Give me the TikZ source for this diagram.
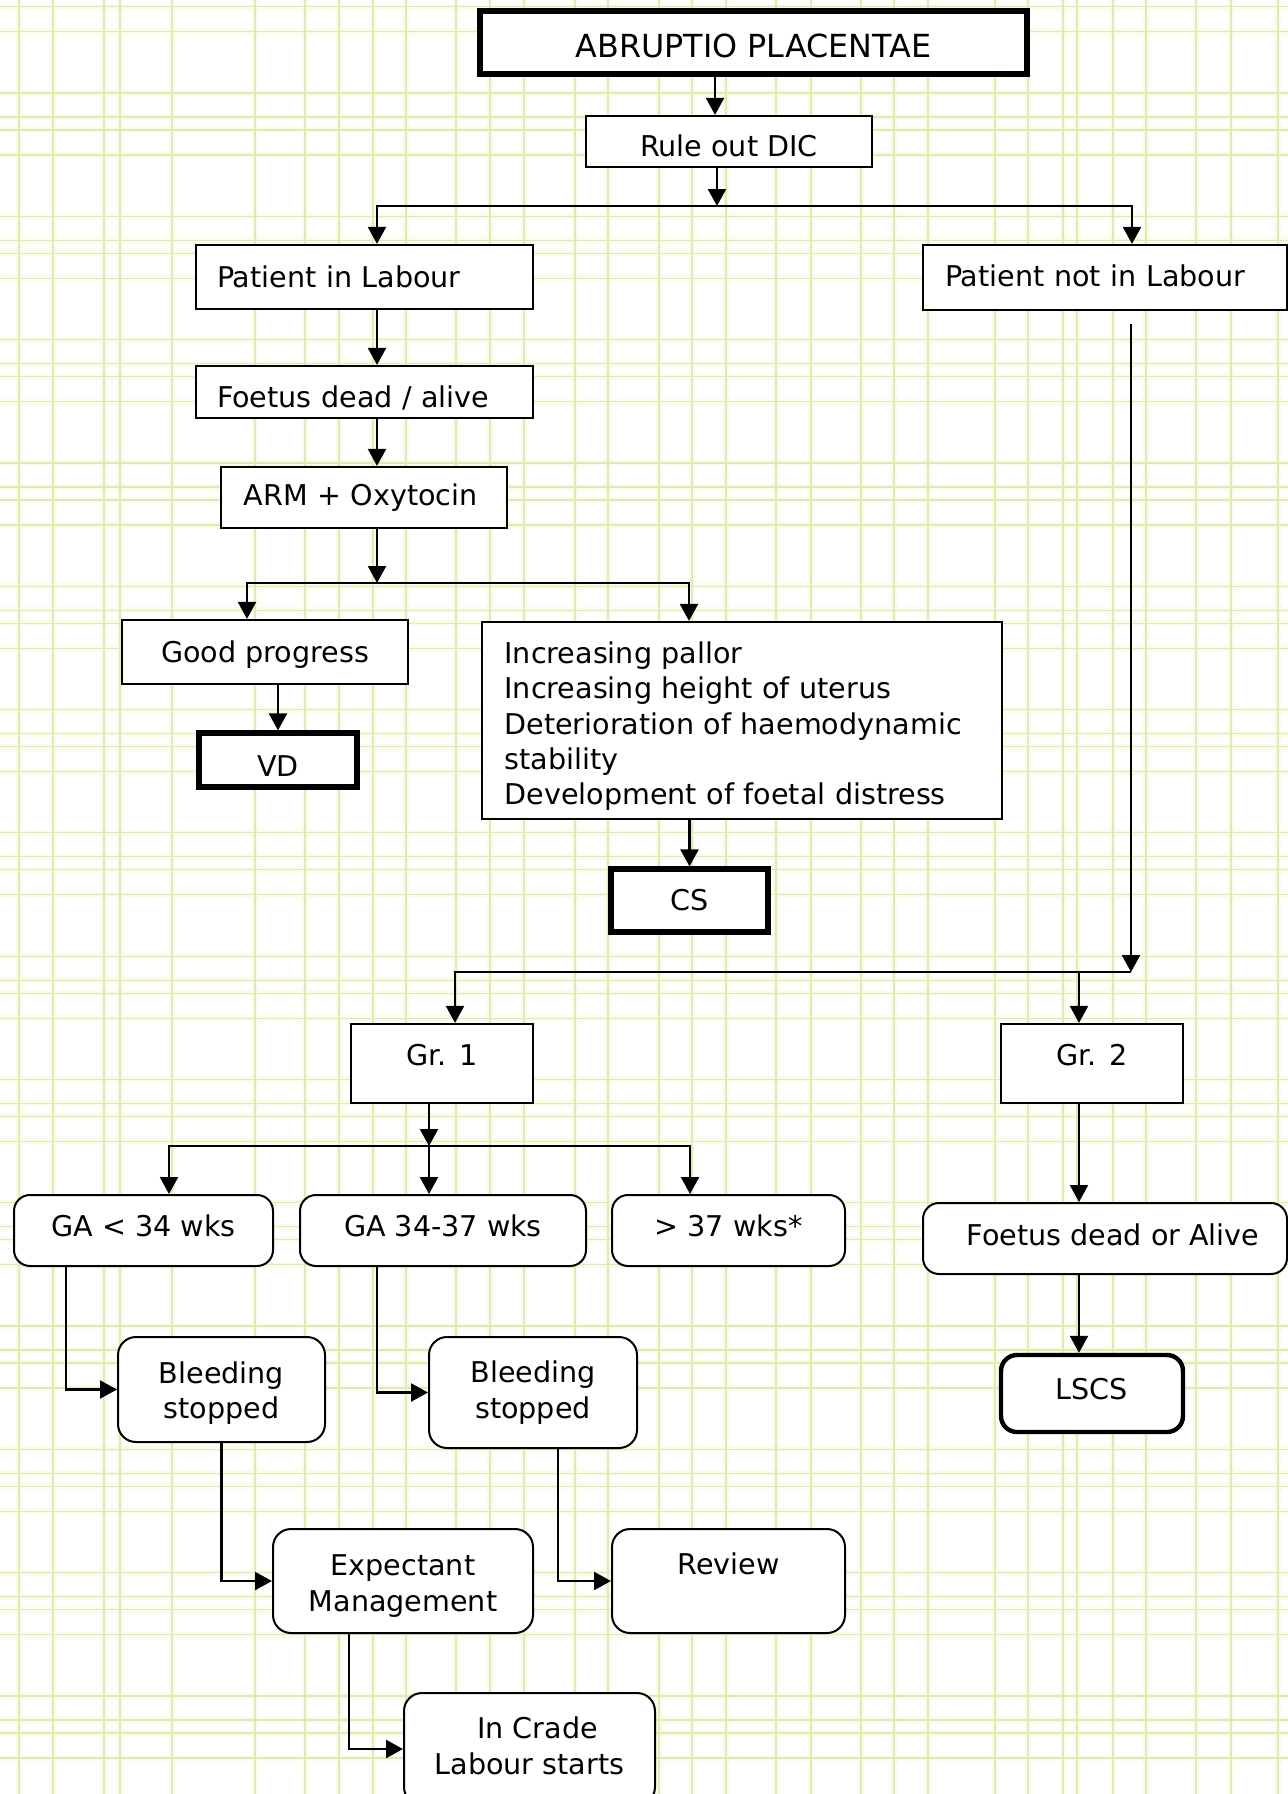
\documentclass[tikz,border=0pt]{standalone}
\usepackage{fontspec}
\setmainfont{DejaVu Sans}
\usetikzlibrary{arrows.meta}
\definecolor{gridline}{RGB}{222,235,182}
\definecolor{gridglow}{RGB}{250,252,234}
% invisible struts that move a label down (taller first line) or up (deeper last line)
\newcommand\hgtstrut[1]{\rule{0pt}{#1}}
\newcommand\dptstrut[1]{\rule[-#1]{0pt}{0pt}}

\begin{document}
\begin{tikzpicture}[x=0.5pt,y=-0.5pt,
  every node/.style={font=\fontsize{14.3}{17.6}\selectfont},
  box/.style={draw=black,fill=white,line width=1.1pt,inner sep=0pt,align=center},
  heavy/.style={box,line width=2.6pt},
  rbox/.style={box,line width=1pt,rounded corners=8pt},
  rheavy/.style={rbox,line width=2.2pt},
  conn/.style={line width=1.15pt},
  arr/.style={conn,-{Triangle[length=8.5pt,width=9pt]}},
]
% page and graph-paper background
\useasboundingbox (0,0) rectangle (1288,1794);
\fill[white] (0,0) rectangle (1288,1794);
\begin{scope}
  \clip (0,0) rectangle (1288,1794);
  \def\vlines{19,53,104,120,172,255,305,339,373,406,456,490,524,575,608,659,692,726,776,811,861,894,928,995,1028,1063,1077,1113,1146,1196,1231,1278}
  \foreach \gx in \vlines {\draw[gridglow,line width=3pt] (\gx,0) -- (\gx,1794);}
  \foreach \k in {-1,...,13}{\foreach \o in {0,24,37,62}{
    \pgfmathsetmacro\gy{93+123.3*\k+\o}
    \draw[gridglow,line width=3pt] (0,\gy) -- (1288,\gy);}}
  \foreach \gx in \vlines {\draw[gridline,line width=0.6pt] (\gx,0) -- (\gx,1794);}
  \foreach \k in {-1,...,13}{\foreach \o in {0,24,37,62}{
    \pgfmathsetmacro\gy{93+123.3*\k+\o}
    \draw[gridline,line width=0.6pt] (0,\gy) -- (1288,\gy);}}
\end{scope}

% boxes
\node[heavy,minimum width=273.5pt,minimum height=31.5pt,font=\fontsize{15.9}{19}\selectfont]
  (title) at (753.5,42.5) {\hgtstrut{15pt}ABRUPTIO PLACENTAE};
\node[box,minimum width=143pt,minimum height=25.5pt] (ruledic) at (729,141.5) {\hgtstrut{15.5pt}Rule out DIC};

\node[box,minimum height=32pt,align=left,text width=147.5pt,inner xsep=10.5pt]
  (pil) at (364.5,277) {Patient in Labour};
\node[box,minimum height=32.5pt,align=left,text width=160pt,inner xsep=11pt]
  (pnil) at (1105,277.5) {Patient not in Labour\dptstrut{2.3pt}};

\node[box,minimum height=26pt,align=left,text width=147.5pt,inner xsep=10.5pt]
  (fda) at (364.5,392) {\hgtstrut{16.6pt}Foetus dead / alive};
\node[box,minimum height=30.5pt,align=left,text width=120.4pt,inner xsep=11.3pt]
  (arm) at (364,497.5) {ARM + Oxytocin};

\node[box,minimum width=143pt,minimum height=32pt] (gp) at (265,652) {\hgtstrut{13.2pt}Good progress};
\node[heavy,minimum width=79pt,minimum height=27pt] (vd) at (278,760) {\hgtstrut{16.1pt}VD};

\node[box,minimum height=98.5pt,align=left,text width=237.5pt,inner xsep=11.25pt]
  (big) at (742,720.5) {\hgtstrut{16.6pt}Increasing pallor\\Increasing height of uterus\\Deterioration of haemodynamic\\stability\\Development of foetal distress};
\node[heavy,minimum width=78.5pt,minimum height=31.5pt] (cs) at (689.5,900.5) {CS};

\node[box,minimum width=91pt,minimum height=39.5pt,text height=10.9pt,text depth=9pt]
  (gr1) at (442,1063.5) {Gr. 1};
\node[box,minimum width=91pt,minimum height=39.5pt,text height=10.9pt,text depth=9pt]
  (gr2) at (1092,1063.5) {Gr. 2};

\node[rbox,minimum width=129.5pt,minimum height=35.5pt] (ga1) at (143.5,1230.5) {GA < 34 wks\dptstrut{4.6pt}};
\node[rbox,minimum width=143pt,minimum height=35.5pt] (ga2) at (443,1230.5) {GA 34-37 wks\dptstrut{4.6pt}};
\node[rbox,minimum width=116.5pt,minimum height=35.5pt] (ga3) at (728.5,1230.5) {> 37 wks*\dptstrut{4.6pt}};

\node[rbox,minimum width=182pt,minimum height=35.5pt] (fdoa) at (1105,1238.5) {\hspace*{8pt}Foetus dead or Alive\dptstrut{3.4pt}};
\node[rheavy,minimum width=91pt,minimum height=38.5pt,text height=10.9pt,text depth=5pt]
  (lscs) at (1092,1393.5) {LSCS};

\node[rbox,minimum width=103.5pt,minimum height=52.5pt,rounded corners=9pt] (bs1) at (221.5,1389.5) {\hgtstrut{14.3pt}Bleeding\\stopped};
\node[rbox,minimum width=104pt,minimum height=55.5pt,rounded corners=9pt] (bs2) at (533,1392.5) {Bleeding\\stopped};

\node[rbox,minimum width=130pt,minimum height=52pt,rounded corners=9pt] (em) at (403,1581) {\hgtstrut{15.5pt}Expectant\\Management};
\node[rbox,minimum width=116.5pt,minimum height=52pt,rounded corners=9pt,text height=10.9pt,text depth=17.5pt]
  (review) at (728.5,1581) {Review};
\node[rbox,minimum width=125.5pt,minimum height=56pt,rounded corners=9pt] (icl) at (529.5,1749) {\hspace*{8pt}In Crade\\Labour starts\dptstrut{3.4pt}};

% junction points of the branching connectors
\coordinate (j1) at (717,206);
\coordinate (j2) at (377,583);
\coordinate (j3) at (1131,972);
\coordinate (pnilfoot) at (1131,324);
\coordinate (j4) at (429,1146);

% connectors
\draw[arr] (title.south -| 715,0) -- (ruledic.north -| 715,0);
\draw[arr] (ruledic.south -| j1) -- (j1);
\draw[arr] (j1) -| (pil.north -| 377,0);
\draw[arr] (j1) -| (pnil.north -| 1132,0);

\draw[arr] (pil.south -| 377,0) -- (fda.north -| 377,0);
\draw[arr] (fda.south -| 377,0) -- (arm.north -| 377,0);
\draw[arr] (arm.south -| j2) -- (j2);
\draw[arr] (j2) -| (gp.north -| 247,0);
\draw[arr] (j2) -| (big.north -| 689,0);
\draw[arr] (gp.south -| vd.north) -- (vd.north);
\draw[arr] (big.south -| cs.north) -- (cs.north);

\draw[arr] (pnilfoot) -- (j3);
\draw[arr] (j3) -| (gr1.north -| 455,0);
\draw[arr] (j3) -| (gr2.north -| 1079,0);

\draw[arr] (gr1.south -| j4) -- (j4);
\draw[arr] (j4) -| (ga1.north -| 169,0);
\draw[arr] (j4) -- (ga2.north -| j4);
\draw[arr] (j4) -| (ga3.north -| 690,0);

\draw[arr] (gr2.south -| 1079,0) -- (fdoa.north -| 1079,0);
\draw[arr] (fdoa.south -| 1079,0) -- (lscs.north -| 1079,0);

\draw[arr] (ga1.south -| 66,0) |- (bs1.west);
\draw[arr] (ga2.south -| 377,0) |- (bs2.west);
\draw[arr] (bs1.south) |- (em.west);
\draw[arr] (bs2.south -| 558,0) |- (review.west);
\draw[arr] (em.south -| 349,0) |- (icl.west);
\end{tikzpicture}
\end{document}
